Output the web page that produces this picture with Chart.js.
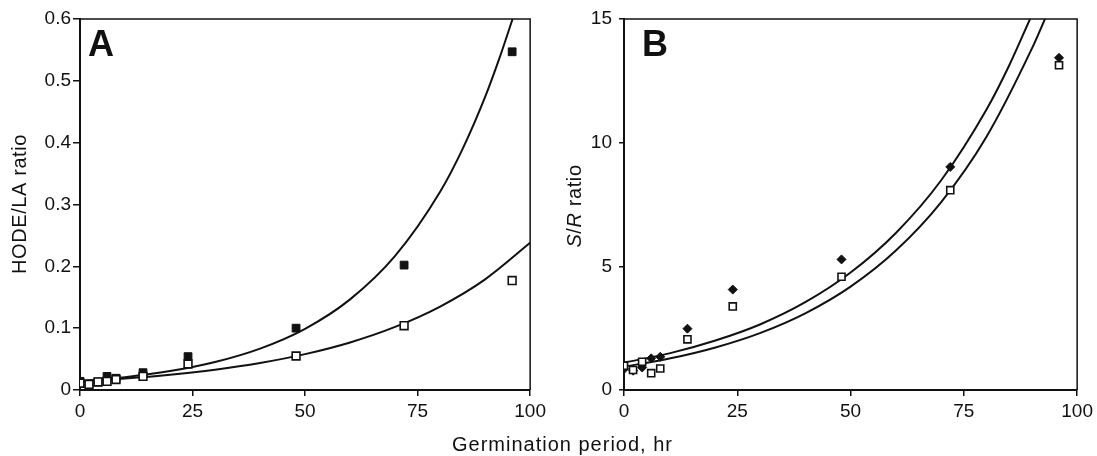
<!DOCTYPE html>
<html>
<head>
<meta charset="utf-8">
<script src="https://cdn.jsdelivr.net/npm/chart.js@4/dist/chart.umd.min.js"></script>
<style>
body{margin:0;background:#fff;width:1097px;height:456px;position:relative;overflow:hidden;}
#wa{position:absolute;left:0;top:0;width:550px;height:456px;}
#wb{position:absolute;left:550px;top:0;width:547px;height:456px;}
#xt{position:absolute;left:452px;top:435px;font:20px/19px "Liberation Sans",Arial,sans-serif;letter-spacing:1px;color:#111;white-space:nowrap;}
</style>
</head>
<body>
<div id="wa"><canvas id="ca"></canvas></div>
<div id="wb"><canvas id="cb"></canvas></div>
<div id="xt">Germination period, hr</div>
<script>
// germination time points (hr)
var hours = [0, 2, 4, 6, 8, 14, 24, 48, 72, 96];

// panel A, HODE/LA ratio
var hodeFilled = [0.014, 0.010, 0.013, 0.022, 0.019, 0.028, 0.054, 0.100, 0.202, 0.547];
var hodeOpen = [0.011, 0.009, 0.013, 0.014, 0.017, 0.022, 0.042, 0.055, 0.104, 0.177];
var fitAupX = [0, 10, 20, 30, 40, 50, 60, 70, 80, 85, 90, 93, 96.1];
var fitAupY = [0.014, 0.0207, 0.0306, 0.0453, 0.067, 0.099, 0.1466, 0.2168, 0.3206, 0.39, 0.474, 0.533, 0.6];
var fitAlowX = [0, 10, 20, 30, 40, 50, 60, 70, 80, 90, 100];
var fitAlowY = [0.0141, 0.0187, 0.0248, 0.0329, 0.0437, 0.058, 0.0769, 0.102, 0.135, 0.179, 0.238];

// panel B, S/R ratio
var srFilled = [0.85, 0.78, 0.91, 1.28, 1.34, 2.48, 4.06, 5.28, 9.02, 13.43];
var srOpen = [0.98, 0.81, 1.14, 0.68, 0.87, 2.05, 3.38, 4.58, 8.08, 13.13];
var fitBupX = [0, 10, 20, 30, 40, 50, 60, 70, 80, 85, 89.6];
var fitBupY = [1.11, 1.48, 1.99, 2.65, 3.55, 4.75, 6.35, 8.48, 11.34, 13.12, 15];
var fitBlowX = [0, 10, 20, 30, 40, 50, 60, 70, 80, 90, 92.9];
var fitBlowY = [0.94, 1.27, 1.71, 2.30, 3.10, 4.18, 5.64, 7.60, 10.24, 13.80, 15];

// tick labels
var xTicks = [0, 25, 50, 75, 100];
var yTicksA = ['0', '0.1', '0.2', '0.3', '0.4', '0.5', '0.6'];
var yTicksB = ['0', '5', '10', '15'];

var INK = '#111';
var FONT = '"Liberation Sans", Arial, sans-serif';
Chart.defaults.font.family = FONT;
Chart.defaults.font.size = 19;
Chart.defaults.color = INK;

function pts(xs, ys){
	var out = [];
	for(var i = 0; i < xs.length; i++){
		out.push({x: xs[i], y: ys[i]});
	}
	return out;
}

function curve(xs, ys){
	return {
		type: 'line', data: pts(xs, ys), showLine: true, pointRadius: 0,
		borderColor: INK, borderWidth: 2, cubicInterpolationMode: 'monotone',
		fill: false, clip: 0, order: 3
	};
}

function marks(ys, style, filled, r){
	return {
		type: 'scatter', data: pts(hours, ys), pointStyle: style, pointRadius: r,
		backgroundColor: filled ? INK : '#fff', borderColor: INK,
		borderWidth: filled ? 1 : 1.6, order: filled ? 2 : 1
	};
}

// frame + panel letter + y title
var deco = {
	id: 'deco',
	afterDraw: function(chart, args, o){
		var ctx = chart.ctx, a = chart.chartArea;
		ctx.save();
		ctx.strokeStyle = INK;
		ctx.lineWidth = 1.5;
		ctx.beginPath();
		ctx.moveTo(a.left, a.top);
		ctx.lineTo(a.right, a.top);
		ctx.lineTo(a.right, a.bottom);
		ctx.stroke();
		ctx.fillStyle = INK;
		ctx.font = 'bold 36px ' + FONT;
		ctx.textBaseline = 'alphabetic';
		ctx.textAlign = 'left';
		ctx.fillText(o.letter, o.lx, o.ly);
		// rotated y title, pieces may be italic
		ctx.translate(o.tx, o.ty);
		ctx.rotate(-Math.PI / 2);
		ctx.letterSpacing = '0.6px';
		ctx.textBaseline = 'middle';
		var w = 0, i;
		for(i = 0; i < o.title.length; i++){
			ctx.font = (o.title[i][1] ? 'italic ' : '') + '20px ' + FONT;
			w += ctx.measureText(o.title[i][0]).width;
		}
		var x = -w / 2;
		for(i = 0; i < o.title.length; i++){
			ctx.font = (o.title[i][1] ? 'italic ' : '') + '20px ' + FONT;
			ctx.fillText(o.title[i][0], x, 0);
			x += ctx.measureText(o.title[i][0]).width;
		}
		ctx.restore();
	}
};

function makeChart(id, sets, yMax, yLabels, yStep, yWidth, pad, yTick, deco_opts){
	return new Chart(document.getElementById(id), {
		type: 'scatter',
		data: {datasets: sets},
		plugins: [deco],
		options: {
			responsive: true, maintainAspectRatio: false, animation: false,
			layout: {autoPadding: false, padding: pad},
			plugins: {legend: {display: false}, tooltip: {enabled: false}, deco: deco_opts},
			scales: {
				x: {
					type: 'linear', min: 0, max: 100,
					afterBuildTicks: function(s){ s.ticks = xTicks.map(function(v){ return {value: v}; }); },
					afterFit: function(s){ s.height = 66; },
					ticks: {padding: 4, maxRotation: 0, autoSkip: false, color: INK},
					grid: {drawOnChartArea: false, tickLength: 6, color: INK, lineWidth: 1.5},
					border: {color: INK, width: 2}
				},
				y: {
					type: 'linear', min: 0, max: yMax,
					afterBuildTicks: function(s){ s.ticks = yLabels.map(function(v, i){ return {value: i * yStep}; }); },
					afterFit: function(s){ s.width = yWidth; },
					ticks: {padding: yTick[1], autoSkip: false, color: INK,
						callback: function(v, i){ return yLabels[i]; }},
					grid: {drawOnChartArea: false, tickLength: yTick[0], color: INK, lineWidth: 1.5},
					border: {color: INK, width: 2}
				}
			}
		}
	});
}

makeChart('ca', [
	marks(hodeOpen, 'rect', false, 5.5),
	marks(hodeFilled, 'rect', true, 5.5),
	curve(fitAupX, fitAupY),
	curve(fitAlowX, fitAlowY)
], 0.6, yTicksA, 0.1, 80, {top: 19, right: 16, bottom: 0, left: 0}, [7, 2],
	{letter: 'A', lx: 88, ly: 56, tx: 20, ty: 204, title: [['HODE/LA ratio', false]]});

makeChart('cb', [
	marks(srOpen, 'rect', false, 5),
	marks(srFilled, 'rectRot', true, 4.5),
	curve(fitBupX, fitBupY),
	curve(fitBlowX, fitBlowY)
], 15, yTicksB, 5, 74, {top: 19, right: 12, bottom: 0, left: 0}, [5, 7],
	{letter: 'B', lx: 92, ly: 56, tx: 25, ty: 206, title: [['S', true], ['/', false], ['R', true], [' ratio', false]]});
</script>
</body>
</html>
